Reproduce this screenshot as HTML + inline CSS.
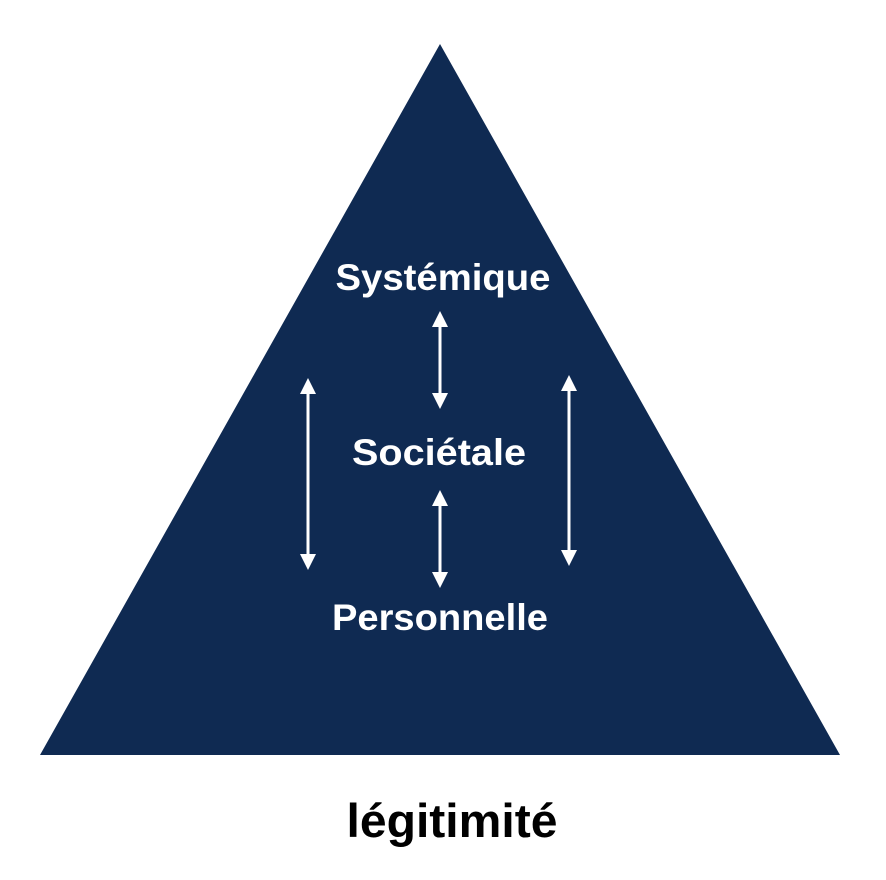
<!DOCTYPE html>
<html><head><meta charset="utf-8"><style>html,body{margin:0;padding:0;background:#fff;width:886px;height:880px;overflow:hidden}</style></head>
<body>
<svg width="886" height="880" viewBox="0 0 886 880" xmlns="http://www.w3.org/2000/svg">
<polygon points="440,44 840,755 40,755" fill="#0f2a52"/>
<g font-family="Liberation Sans, sans-serif" font-weight="bold" fill="#fff" text-anchor="middle">
<text x="443" y="290" font-size="37" textLength="215" lengthAdjust="spacingAndGlyphs">Systémique</text>
<text x="439" y="465" font-size="37" textLength="174" lengthAdjust="spacingAndGlyphs">Sociétale</text>
<text x="440" y="630" font-size="37" textLength="216" lengthAdjust="spacingAndGlyphs">Personnelle</text>
</g>
<text x="452" y="837" font-family="Liberation Sans, sans-serif" font-weight="bold" font-size="47" fill="#000" text-anchor="middle" textLength="211" lengthAdjust="spacingAndGlyphs">légitimité</text>
<g stroke="#fff" stroke-width="3">
<line x1="440" y1="322" x2="440" y2="398"/>
<line x1="440" y1="501" x2="440" y2="577"/>
<line x1="308" y1="389" x2="308" y2="559"/>
<line x1="569" y1="386" x2="569" y2="555"/>
</g>
<g fill="#fff">
<polygon points="440,311 432,327 448,327"/><polygon points="440,409 432,393 448,393"/>
<polygon points="440,490 432,506 448,506"/><polygon points="440,588 432,572 448,572"/>
<polygon points="308,378 300,394 316,394"/><polygon points="308,570 300,554 316,554"/>
<polygon points="569,375 561,391 577,391"/><polygon points="569,566 561,550 577,550"/>
</g>
</svg>
</body></html>
